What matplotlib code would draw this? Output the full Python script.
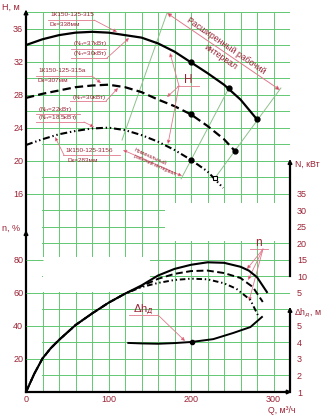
import numpy as np
import matplotlib.pyplot as plt

plt.rcParams['font.family'] = ['Liberation Sans', 'DejaVu Sans']
plt.rcParams['lines.scale_dashes'] = False

# ---- data ----
# напорные характеристики H(Q)
q_h1 = [0, 20, 40, 60, 80, 100, 120, 140, 160, 180, 200, 220, 240, 260, 280]
h1 = [34.0, 34.7, 35.2, 35.5, 35.6, 35.5, 35.2, 34.9, 34.2, 33.2, 31.9, 30.6, 29.2, 27.4, 25.0]
q_h2 = [0, 20, 40, 60, 80, 100, 120, 140, 160, 180, 200, 220, 240, 253]
h2 = [27.6, 28.1, 28.5, 28.9, 29.1, 29.2, 28.9, 28.3, 27.4, 26.6, 25.6, 24.2, 22.6, 21.2]
q_h3 = [0, 20, 40, 60, 80, 100, 120, 140, 160, 180, 200, 220, 239]
h3 = [21.9, 22.6, 23.2, 23.6, 23.9, 24.0, 23.7, 23.1, 22.3, 21.3, 20.1, 18.7, 16.7]

# рабочие точки
pts1_q, pts1_h = [200, 246, 280], [31.9, 28.8, 25.0]
pts2_q, pts2_h = [200, 253], [25.6, 21.2]
pts3_q, pts3_h = [200], [20.1]
sq3_q, sq3_h = [229], [17.9]

# КПД n(Q)
q_n1 = [0, 10, 20, 30, 40, 60, 80, 100, 120, 140, 160, 180, 200, 220, 240, 260, 270, 280, 292]
n1 = [0, 11, 20.3, 26.5, 31.5, 40.5, 47.5, 54, 59.5, 64.5, 70.5, 74.5, 77, 78.5, 78.2, 75.8, 73.5, 69.5, 60.5]
q_n2 = [0, 10, 20, 30, 40, 60, 80, 100, 120, 140, 160, 180, 200, 220, 240, 260, 275, 287]
n2 = [0, 11, 20.3, 26.5, 31.5, 40.5, 47.5, 54, 59.5, 64, 68.5, 71.5, 73.2, 73.5, 72, 69, 63.5, 54.5]
q_n3 = [0, 10, 20, 30, 40, 60, 80, 100, 120, 140, 160, 180, 200, 220, 240, 255, 272, 281]
n3 = [0, 11, 20.3, 26.5, 31.5, 40.5, 47.5, 54, 59.5, 63.5, 66, 67.8, 68.6, 68.2, 65.8, 62.5, 55.7, 46.6]

# кавитационный запас
q_dh = [124, 140, 160, 180, 201, 227, 251, 272, 286]
dh = [3.97, 3.94, 3.92, 3.96, 4.03, 4.2, 4.57, 4.93, 5.54]
dh_pt_q, dh_pt = [201], [4.03]

h_ticks = [16, 20, 24, 28, 32, 36]
n_ticks = [20, 40, 60, 80]
N_ticks = [5, 10, 15, 20, 25, 30, 35]
dh_ticks = [1, 2, 3, 4, 5]
q_ticks = [0, 100, 200, 300]

GRID = '#62c872'
RED = '#9b2335'
PINK = '#e0788c'
ARR = '#c81e3c'
THIN = '#8cc28c'

W, HP = 322, 415
fig = plt.figure(figsize=(3.22, 4.15), dpi=100)
L, R, T, B = 26, 290, 12, 392
rect = [L / W, 1 - B / HP, (R - L) / W, (B - T) / HP]


def P(x, y):
    return (x, HP - y)


ax = fig.add_axes(rect)
ax.set_xlim(0, 320)
ax.set_ylim(-8, 38)
for s in ax.spines.values():
    s.set_visible(False)

# сетка
ax.vlines(np.arange(0, 321, 20), -8, 38, color=GRID, lw=0.7, zorder=0)
ax.hlines(np.arange(-8, 39, 2), 0, 320, color=GRID, lw=0.7, zorder=0)
# пустые места на скане
ax.fill_between([0.4, 19.6], -8, 22.1, color='white', zorder=0.5, lw=0)
ax.fill_between([20.4, 150], 4.15, 8.3, color='white', zorder=0.5, lw=0)
ax.fill_between([168, 320], 10.3, 14.9, color='white', zorder=0.5, lw=0)

ax.set_yticks(h_ticks)
ax.tick_params(axis='y', direction='in', length=12, color=GRID, width=0.7,
               labelsize=6.5, labelcolor=RED, pad=2)
ax.set_xticks(q_ticks)
ax.tick_params(axis='x', length=0, labelsize=6.5, labelcolor=RED, pad=2)

# напорные кривые
ax.plot(q_h1, h1, color='k', lw=1.6, zorder=3)
ax.plot(q_h2, h2, color='k', lw=1.6, ls=(0, (6, 3)), zorder=3)
ax.plot(q_h3, h3, color='k', lw=1.5, ls=(0, (5, 2, 1, 2, 1, 2)), zorder=3)
ax.plot(pts1_q, pts1_h, 'o', color='k', ms=3.5, zorder=4)
ax.plot(pts2_q, pts2_h, 'o', color='k', ms=3.5, zorder=4)
ax.plot(pts3_q, pts3_h, 'o', color='k', ms=3.5, zorder=4)
ax.plot(sq3_q, sq3_h, 's', mfc='white', mec='k', mew=0.8, ms=3, zorder=4)

# границы рабочих интервалов
ax.plot([229, 309], [17.9, 28.8], color=THIN, lw=0.7, zorder=2)
ax.plot([188, 246], [17.8, 28.8], color=THIN, lw=0.7, zorder=2)
ax.plot([116.4, 171], [22.5, 37.9], color=THIN, lw=0.7, zorder=2)

# КПД
axn = fig.add_axes(rect, frameon=False)
axn.set_xlim(0, 320)
axn.set_ylim(0, 230)
axn.set_xticks([])
axn.set_yticks(n_ticks)
axn.tick_params(axis='y', direction='in', length=12, color=GRID, width=0.7,
                labelsize=6.5, labelcolor=RED, pad=2)
axn.plot(q_n3, n3, color='k', lw=1.4, ls=(0, (4, 2, 1, 2, 1, 2)))
axn.plot(q_n2, n2, color='k', lw=1.4, ls=(0, (5, 2.5)))
axn.plot(q_n1, n1, color='k', lw=1.5)

# мощность (только шкала)
axN = fig.add_axes(rect, frameon=False)
axN.set_xlim(0, 320)
axN.set_ylim(-25, 90)
axN.set_xticks([])
axN.yaxis.tick_right()
axN.set_yticks(N_ticks)
axN.tick_params(axis='y', length=0, labelsize=6.5, labelcolor=RED, pad=5)
axN.plot([320, 320], [10, 44], color='k', lw=1.6, clip_on=False)
axN.annotate('', xy=(320, 45.5), xytext=(320, 40), annotation_clip=False,
             arrowprops=dict(arrowstyle='-|>', color='k', lw=1.2, mutation_scale=6,
                             shrinkA=0, shrinkB=0))

# кавитационный запас
axd = fig.add_axes(rect, frameon=False)
axd.set_xlim(0, 320)
axd.set_ylim(1, 24)
axd.set_xticks([])
axd.yaxis.tick_right()
axd.set_yticks(dh_ticks)
axd.tick_params(axis='y', length=0, labelsize=6.5, labelcolor=RED, pad=5)
axd.plot(q_dh, dh, color='k', lw=1.4)
axd.plot(dh_pt_q, dh_pt, 'o', color='k', ms=3)
axd.plot([320, 320], [1, 5.8], color='k', lw=1.6, clip_on=False)
axd.annotate('', xy=(320, 6.15), xytext=(320, 5.5), annotation_clip=False,
             arrowprops=dict(arrowstyle='-|>', color='k', lw=1.2, mutation_scale=6,
                             shrinkA=0, shrinkB=0))

# оси
ax.plot([0, 0], [-8, 37.4], color='k', lw=1.6, clip_on=False, zorder=5)
ax.plot([0, 317], [-8, -8], color='k', lw=1.6, clip_on=False, zorder=5)
ax.annotate('', xy=(0, 38.3), xytext=(0, 37), annotation_clip=False,
            arrowprops=dict(arrowstyle='-|>', color='k', lw=1.2, mutation_scale=6,
                            shrinkA=0, shrinkB=0))
ax.annotate('', xy=(322, -8), xytext=(314, -8), annotation_clip=False,
            arrowprops=dict(arrowstyle='-|>', color='k', lw=1.2, mutation_scale=6,
                            shrinkA=0, shrinkB=0))
axn.annotate('', xy=(0, 98), xytext=(0, 92), annotation_clip=False,
             arrowprops=dict(arrowstyle='-|>', color='k', lw=1.2, mutation_scale=6,
                             shrinkA=0, shrinkB=0))

# подписи осей
fig.text(2 / W, 1 - 7 / HP, 'H, м', fontsize=6.5, color=RED, va='center')
fig.text(2 / W, 1 - 228 / HP, 'n, %', fontsize=6.5, color=RED, va='center')
fig.text(295 / W, 1 - 164 / HP, 'N, кВт', fontsize=6.3, color=RED, va='center')
fig.text(294 / W, 1 - 313 / HP, 'Δh$_д$, м', fontsize=6.3, color=RED, va='center')
fig.text(268 / W, 1 - 410 / HP, 'Q, м³/ч', fontsize=6.3, color=RED, va='center')


def leader(p0, p1, head=True):
    ax.annotate('', xy=P(*p1), xytext=P(*p0), xycoords='figure pixels',
                textcoords='figure pixels', annotation_clip=False,
                arrowprops=dict(arrowstyle='-|>' if head else '-', ec=PINK, fc=ARR,
                                lw=0.6, mutation_scale=5, shrinkA=0, shrinkB=0))


def line(p0, p1, c=PINK, lw=0.6):
    ax.plot([p0[0], p1[0]], [HP - p0[1], HP - p1[1]], color=c, lw=lw,
            transform=None, clip_on=False, zorder=6)


def txt(x, y, s, fs=4.6, **kw):
    fig.text(x / W, 1 - y / HP, s, fontsize=fs, color=RED, va='center', **kw)


# марки насосов
txt(50, 15, '1К150-125-315')
txt(50, 24, 'Dк=338мм')
line((48, 20), (94, 20))
leader((94, 20), (117, 32))

txt(73, 44, '(N$_н$=37кВт)')
txt(73, 54, '(N$_н$=30кВт)')
line((71, 49), (106, 49))
line((71, 58), (107, 58))
leader((107, 58), (129, 38))

txt(38, 71, '1К150-125-315а')
txt(38, 80, 'Dк=307мм')
line((36, 76), (92, 76))
leader((92, 76), (101, 83))

txt(72, 97, '(N$_н$=30кВт)')
line((70, 101), (106, 101))
leader((106, 101), (118, 88))

txt(38, 109, '(N$_н$=22кВт)')
txt(38, 118, '(N$_н$=18.5кВт)')
line((36, 114), (80, 114))
line((36, 122), (84, 122))
leader((84, 122), (94, 127))

txt(65, 151, '1К150-125-315б')
txt(67, 160, 'Dк=283мм')
line((63, 155), (120, 155))
leader((64, 155), (55, 137))

# H
txt(184, 80, 'H', fs=8.5)
line((177, 86), (199, 86))
leader((179, 86), (170, 53))
leader((179, 86), (167, 97))
leader((179, 86), (168, 144))

# n
txt(255, 243, 'n', fs=8.5)
line((250, 249), (268, 249))
leader((263, 249), (247, 269))
leader((263, 249), (248, 280))
leader((263, 249), (249, 301))

# Δh
txt(133, 310, 'Δh$_д$', fs=8)
line((129, 315), (158, 315))
leader((158, 315), (185, 341))

# рабочие интервалы
ax.annotate('', xy=P(280, 90), xytext=P(167, 13), xycoords='figure pixels',
            textcoords='figure pixels', annotation_clip=False,
            arrowprops=dict(arrowstyle='<|-|>', ec=PINK, fc=ARR, lw=0.7,
                            mutation_scale=6, shrinkA=0, shrinkB=0))
txt(226, 46, 'Расширенный рабочий', fs=6.3, rotation=-34.5, ha='center',
    rotation_mode='anchor')
txt(221, 57, 'интервал', fs=6.3, rotation=-34.5, ha='center', rotation_mode='anchor')

ax.annotate('', xy=P(182, 176), xytext=P(123, 150), xycoords='figure pixels',
            textcoords='figure pixels', annotation_clip=False,
            arrowprops=dict(arrowstyle='<|-|>', ec=PINK, fc=ARR, lw=0.6,
                            mutation_scale=5, shrinkA=0, shrinkB=0))
txt(150, 157, 'Номинальный', fs=3.8, rotation=-24, ha='center', rotation_mode='anchor')
txt(155, 165, 'рабочий интервал', fs=3.8, rotation=-24, ha='center',
    rotation_mode='anchor')

fig.savefig('out.png', dpi=100)
